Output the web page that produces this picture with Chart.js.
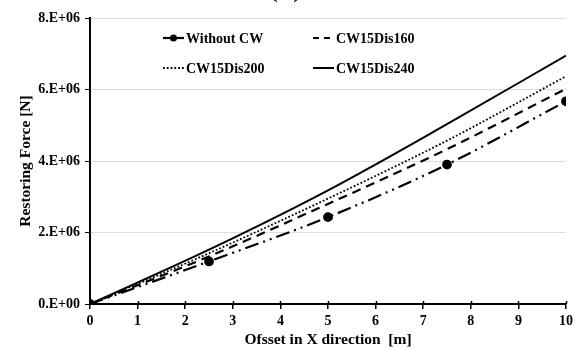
<!DOCTYPE html>
<html lang="en">
<head>
  <meta charset="UTF-8" />
  <title>Restoring Force vs Offset</title>
  <script src="https://cdn.jsdelivr.net/npm/chart.js"></script>
  <style>
    body {
      margin: 0;
      background: #fff;
      overflow: hidden;
    }
    .wrap {
      position: relative;
      width: 582px;
      height: 349px;
    }
    .label-b {
      position: absolute;
      left: 268px;
      top: -31px;
      font-family: 'Liberation Serif', serif;
      font-size: 30px;
      color: #000;
    }
  </style>
</head>
<body>
  <div class="wrap">
    <canvas id="forceChart" width="582" height="349"></canvas>
    <div class="label-b">(b)</div>
  </div>

  <script>
    // offsets [m]
    const offsets = [0, 2.5, 5, 7.5, 10];

    // restoring force [N]
    const withoutCW = [0, 1.19e6, 2.43e6, 3.90e6, 5.67e6];
    const cw15Dis160 = [0, 1.33e6, 2.80e6, 4.33e6, 6.02e6];
    const cw15Dis200 = [0, 1.42e6, 2.95e6, 4.57e6, 6.37e6];
    const cw15Dis240 = [0, 1.52e6, 3.18e6, 5.03e6, 6.95e6];

    const seriesNames = ['Without CW', 'CW15Dis160', 'CW15Dis200', 'CW15Dis240'];
    const yTicks = [0, 2e6, 4e6, 6e6, 8e6];
    const yTickLabels = ['0.E+00', '2.E+06', '4.E+06', '6.E+06', '8.E+06'];

    const serif = "'Liberation Serif', 'Times New Roman', serif";

    const toPoints = vals => offsets.map((x, i) => ({ x: x, y: vals[i] }));

    const base = {
      borderColor: '#000',
      backgroundColor: '#000',
      fill: false,
      cubicInterpolationMode: 'monotone',
      pointRadius: 0
    };

    const datasets = [
      Object.assign({}, base, {
        label: seriesNames[0],
        data: toPoints(withoutCW),
        borderWidth: 2.2,
        borderDash: [14, 5, 2, 5, 2, 5],
        pointRadius: 3.8
      }),
      Object.assign({}, base, {
        label: seriesNames[1],
        data: toPoints(cw15Dis160),
        borderWidth: 2.2,
        borderDash: [9, 6]
      }),
      Object.assign({}, base, {
        label: seriesNames[2],
        data: toPoints(cw15Dis200),
        borderWidth: 1.8,
        borderDash: [1.8, 2]
      }),
      Object.assign({}, base, {
        label: seriesNames[3],
        data: toPoints(cw15Dis240),
        borderWidth: 2
      })
    ];

    // legend drawn inside the plot, two columns
    const legendBox = {
      id: 'legendBox',
      afterDraw(chart) {
        const c = chart.ctx;
        const spots = [
          { x: 163, y: 38 }, { x: 313, y: 38 },
          { x: 163, y: 68 }, { x: 313, y: 68 }
        ];
        c.save();
        c.font = 'bold 14px ' + serif;
        c.textBaseline = 'middle';
        c.fillStyle = '#000';
        chart.data.datasets.forEach((ds, i) => {
          const s = spots[i];
          const len = 21;
          c.strokeStyle = '#000';
          c.lineWidth = ds.borderWidth;
          c.setLineDash(i === 0 ? [] : (i === 1 ? [6, 5] : (ds.borderDash || [])));
          c.beginPath();
          c.moveTo(s.x, s.y);
          c.lineTo(s.x + len, s.y);
          c.stroke();
          c.setLineDash([]);
          if (i === 0) {
            c.beginPath();
            c.arc(s.x + len / 2, s.y, 3.5, 0, Math.PI * 2);
            c.fill();
          }
          c.fillText(ds.label, s.x + len + 2, s.y + 1);
        });
        c.restore();
      }
    };

    // small tick marks above the x axis line
    const xTickUp = {
      id: 'xTickUp',
      afterDraw(chart) {
        const c = chart.ctx;
        const xs = chart.scales.x;
        c.save();
        c.strokeStyle = '#000';
        c.lineWidth = 1.5;
        xs.ticks.forEach(t => {
          const px = Math.round(xs.getPixelForValue(t.value)) + 0.5;
          c.beginPath();
          c.moveTo(px, xs.top);
          c.lineTo(px, xs.top - 3);
          c.stroke();
        });
        c.restore();
      }
    };

    new Chart(document.getElementById('forceChart'), {
      type: 'line',
      data: { datasets: datasets },
      plugins: [legendBox, xTickUp],
      options: {
        responsive: false,
        animation: false,
        layout: { padding: { top: 18, right: 16, left: 0, bottom: 0 } },
        plugins: {
          legend: { display: false },
          tooltip: { enabled: false }
        },
        scales: {
          x: {
            type: 'linear',
            min: 0,
            max: 10,
            afterFit: axis => { axis.height = 45; },
            ticks: {
              stepSize: 1,
              color: '#000',
              font: { family: serif, size: 14, weight: 'bold' },
              padding: 4
            },
            grid: {
              drawOnChartArea: false,
              color: '#000',
              tickLength: 5,
              lineWidth: 1.5
            },
            border: { color: '#000', width: 2 },
            title: {
              display: true,
              text: 'Ofsset in X direction  [m]',
              color: '#000',
              font: { family: serif, size: 15.5, weight: 'bold' },
              padding: { top: 0, bottom: 0 }
            }
          },
          y: {
            min: 0,
            max: 8e6,
            afterFit: axis => { axis.width = 90; },
            afterBuildTicks: axis => {
              axis.ticks = yTicks.map(v => ({ value: v }));
            },
            ticks: {
              color: '#000',
              font: { family: serif, size: 14, weight: 'bold' },
              padding: 5,
              callback: (v) => yTickLabels[yTicks.indexOf(v)]
            },
            grid: {
              color: '#dcdcdc',
              tickColor: '#000',
              tickLength: 5,
              lineWidth: 1
            },
            border: { color: '#000', width: 2 },
            title: {
              display: true,
              text: 'Restoring Force [N]',
              color: '#000',
              font: { family: serif, size: 15.5, weight: 'bold' },
              padding: { top: 17, bottom: 0 }
            }
          }
        }
      }
    });
  </script>
</body>
</html>
